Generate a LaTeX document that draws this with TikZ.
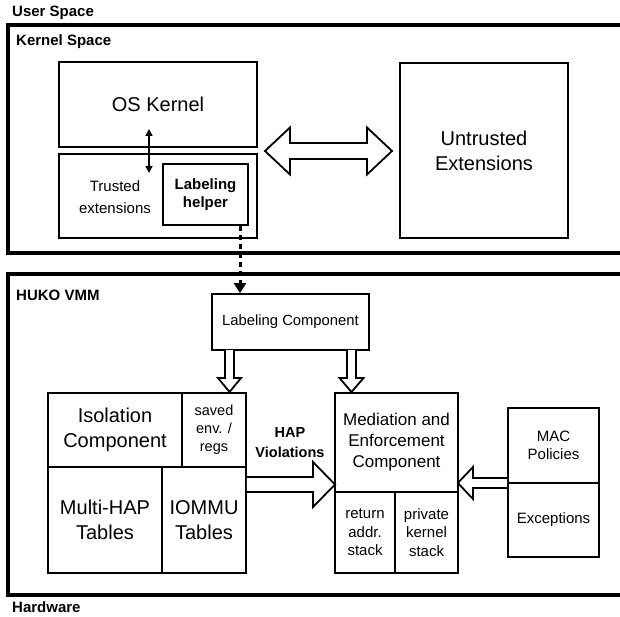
\documentclass[tikz,border=0pt]{standalone}
\usepackage{fontspec}
\setmainfont{Liberation Sans}
\usetikzlibrary{arrows.meta}
\begin{document}
\begin{tikzpicture}[x=1pt,y=-1pt,
  outerline/.style={line width=3.5pt},
  box/.style={draw, line width=1.8pt, inner sep=0pt, align=center},
  hollow/.style={draw, line width=1.8pt, fill=white, line join=miter},
  lbl/.style={anchor=west, inner sep=0pt, font=\bfseries\fontsize{15}{17}\selectfont},
  txt/.style={inner sep=0pt, align=center},
  big/.style={font=\fontsize{20}{25}\selectfont},
  mid/.style={font=\fontsize{15}{18.5}\selectfont},
]
\useasboundingbox (0,0) rectangle (620,617);

% section labels
\node[lbl] (us) at (12,13) {User Space};
\node[lbl] (ks) at (16,42) {Kernel Space};
\node[lbl] (hv) at (16,295) {HUKO VMM};
\node[lbl] (hw) at (12,607.5) {Hardware};

% outer thick frames (open to the right edge)
\draw[outerline] (625,25) -- (8,25) -- (8,253) -- (625,253);
\draw[outerline] (625,274) -- (8,274) -- (8,595) -- (625,595);

% kernel space
\node[box, big, minimum width=198pt, minimum height=85pt] (os) at (158,104.5) {OS Kernel};
\node[box, minimum width=198pt, minimum height=84pt] (tr) at (158,196) {};
\node[txt, font=\fontsize{15}{22}\selectfont] (trt) at (115,197) {Trusted\\extensions};
\node[box, font=\bfseries\fontsize{15}{18}\selectfont, minimum width=85pt, minimum height=61pt] (lh) at (205.5,194.5) {Labeling\\helper};
\node[box, big, minimum width=168pt, minimum height=175pt] (ue) at (484,150.5) {Untrusted\\Extensions};

% small double arrow OS kernel <-> trusted extensions
\coordinate (da1) at (149,129);
\coordinate (da2) at (149,173);
\draw[line width=1.6pt, {Triangle[length=7pt,width=7pt]}-{Triangle[length=7pt,width=7pt]}] (da1) -- (da2);

% big hollow double arrow
\draw[hollow] (265,151) -- (290,127.5) -- (290,143) -- (367,143) -- (367,127.5) -- (392,151)
  -- (367,174.5) -- (367,159) -- (290,159) -- (290,174.5) -- cycle;

% VMM
\node[box, font=\fontsize{14.8}{17}\selectfont, minimum width=157pt, minimum height=56pt] (lc) at (290.5,322) {Labeling Component};

% dashed connector helper -> labeling component
\coordinate (hs) at (lh.south -| 240,0);
\draw[line width=3pt, dash pattern=on 5pt off 4pt, -{Triangle[length=10pt,width=12pt]}] (hs) -- (hs |- lc.north);

% hollow down arrows
\draw[hollow] (225,350) -- (225,378) -- (218,378) -- (229.5,392) -- (241,378) -- (234,378) -- (234,350);
\draw[hollow] (347,350) -- (347,378) -- (339.5,378) -- (351.5,392) -- (363.5,378) -- (356,378) -- (356,350);

% isolation block
\node[box, big, minimum width=134pt, minimum height=74pt] (iso) at (115,430) {Isolation\\Component};
\node[box, font=\fontsize{14.5}{18}\selectfont, minimum width=64pt, minimum height=74pt] (sav) at (214,430) {saved\\env. /\\regs};
\node[box, big, minimum width=114pt, minimum height=106pt] (mh) at (105,520) {Multi-HAP\\Tables};
\node[box, big, minimum width=84pt, minimum height=106pt] (io) at (204,520) {IOMMU\\Tables};

% HAP violations arrow
\node[txt, font=\bfseries\fontsize{14.5}{20}\selectfont] (hap) at (290,443) {HAP\\Violations};
\draw[hollow] (246.8,477) -- (313,477) -- (313,462) -- (335,484.5) -- (313,507) -- (313,492) -- (246.8,492);

% mediation block
\node[box, font=\fontsize{17}{21}\selectfont, minimum width=123pt, minimum height=99pt] (med) at (396.5,442.5) {Mediation and\\Enforcement\\Component};
\node[box, mid, minimum width=60pt, minimum height=81pt] (ras) at (365,532.5) {return\\addr.\\stack};
\node[box, mid, minimum width=63pt, minimum height=81pt] (pks) at (426.5,532.5) {private\\kernel\\stack};

% MAC block
\node[box, mid, minimum width=91pt, minimum height=75pt] (mac) at (553.5,445.5) {MAC\\Policies};
\node[box, mid, minimum width=91pt, minimum height=74pt] (exc) at (553.5,520) {Exceptions};

% MAC -> mediation arrow
\draw[hollow] (507.2,478) -- (473,478) -- (473,467) -- (457.8,483) -- (473,499) -- (473,488) -- (507.2,488);
\end{tikzpicture}
\end{document}
